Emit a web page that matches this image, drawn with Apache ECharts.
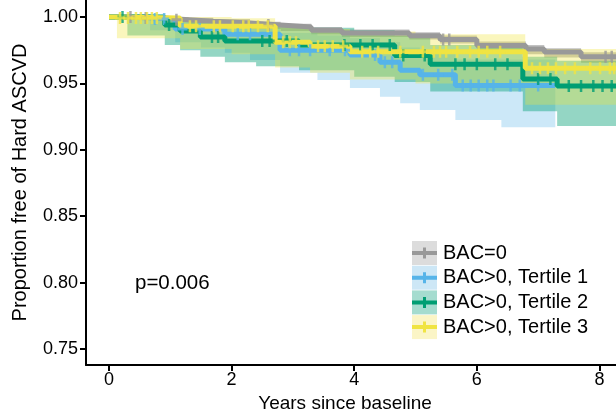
<!DOCTYPE html>
<html>
<head>
<meta charset="utf-8">
<script src="https://cdn.jsdelivr.net/npm/echarts@6/dist/echarts.min.js"></script>
<style>html,body{margin:0;padding:0;background:#fff}#c{width:616px;height:415px}</style>
</head>
<body>
<div id="c"></div>
<script>
var groups = ['BAC=0', 'BAC>0, Tertile 1', 'BAC>0, Tertile 2', 'BAC>0, Tertile 3'];
var xTicks = [0, 2, 4, 6, 8];
var yTicks = [0.75, 0.80, 0.85, 0.90, 0.95, 1.00];
var pValueText = 'p=0.006';

// Kaplan-Meier step curves [years, survival]
var grayLine = [[0,1.000],[0.5,0.9992],[0.9,0.998],[1.3,0.9968],[1.7,0.9955],[2.3,0.994],[2.8,0.9925],[3.3,0.990],[3.8,0.988],[4.9,0.9858],[5.4,0.9830],[6.0,0.9785],[6.8,0.976],[7.1,0.9736],[7.7,0.9700],[8.3,0.9700]];
var blueLine = [[0,1.000],[0.67,0.9985],[1.08,0.991],[1.89,0.987],[2.79,0.975],[3.93,0.9714],[4.42,0.966],[4.75,0.960],[5.07,0.9565],[5.65,0.9485],[7.28,0.9485]];
var greenLine = [[0,1.000],[0.91,0.994],[1.16,0.9895],[1.49,0.985],[1.89,0.982],[3.1,0.979],[4.66,0.971],[5.24,0.9645],[6.75,0.9533],[7.31,0.948],[8.3,0.948]];
var yellowLine = [[0,1.000],[0.13,0.9993],[1.16,0.993],[2.71,0.981],[3.28,0.978],[3.93,0.9738],[6.79,0.9615],[8.3,0.9615]];

// Confidence bands [years, lower, upper]
var grayBand = [[0,0.999,1.0],[0.5,0.9975,1.0],[0.9,0.996,1.0],[1.3,0.9945,0.9995],[1.7,0.993,0.9985],[2.3,0.991,0.9965],[2.8,0.9895,0.995],[3.3,0.987,0.9925],[3.8,0.985,0.9905],[4.9,0.983,0.9885],[5.4,0.980,0.986],[6.0,0.975,0.9815],[6.8,0.972,0.979],[7.1,0.9695,0.9765],[7.7,0.9655,0.9735],[8.3,0.9655,0.9735]];
var blueBand = [[0.67,0.990,1.0],[1.08,0.981,0.999],[1.5,0.977,0.998],[1.89,0.973,0.996],[2.3,0.9676,0.995],[2.79,0.958,0.988],[3.4,0.9526,0.986],[3.93,0.9465,0.984],[4.42,0.940,0.981],[4.75,0.935,0.977],[5.07,0.930,0.973],[5.65,0.9224,0.968],[6.4,0.917,0.968],[7.28,0.917,0.968]];
var greenBand = [[0.3,0.986,1.0],[0.91,0.979,1.0],[1.16,0.975,0.998],[1.49,0.970,0.996],[1.89,0.966,0.994],[2.4,0.963,0.993],[3.1,0.960,0.992],[4.0,0.955,0.990],[4.66,0.951,0.986],[5.24,0.944,0.979],[6.75,0.929,0.970],[7.31,0.918,0.967],[8.3,0.918,0.967]];
var yellowBand = [[0.13,0.984,1.0],[1.16,0.976,1.0],[2.0,0.972,0.999],[2.71,0.962,0.993],[3.28,0.958,0.991],[3.93,0.953,0.989],[5.0,0.950,0.987],[6.79,0.934,0.976],[8.3,0.934,0.976]];

// Censoring marks [years, survival]
var grayCensor = [[0.35,1.0],[0.6,0.9992],[1.1,0.998],[2.6,0.994],[5.45,0.983],[5.55,0.983],[8.1,0.970],[8.2,0.970]];
var blueCensor = [[0.75,0.9985],[0.9,0.9985],[1.2,0.991],[1.48,0.991],[2.1,0.987],[2.3,0.987],[2.95,0.975],[3.1,0.975],[3.28,0.975],[3.6,0.975],[3.85,0.975],[4.34,0.9714],[4.5,0.966],[4.62,0.966],[5.12,0.9565],[5.37,0.9565],[5.6,0.9565],[5.77,0.9485],[5.9,0.9485],[6.03,0.9485],[6.17,0.9485],[6.27,0.9485],[6.55,0.9485],[6.7,0.9485],[7.0,0.9485]];
var greenCensor = [[0.22,1.0],[0.98,0.994],[1.68,0.985],[1.78,0.985],[2.5,0.982],[2.62,0.982],[2.9,0.982],[3.84,0.979],[4.1,0.979],[4.3,0.979],[4.58,0.979],[4.8,0.971],[5.15,0.971],[5.65,0.9645],[5.8,0.9645],[6.0,0.9645],[6.3,0.9645],[6.5,0.9645],[7.0,0.9533],[7.2,0.9533],[7.5,0.948],[7.7,0.948],[7.9,0.948],[8.05,0.948],[8.2,0.948]];
var yellowCensor = [[0.18,0.9993],[0.31,0.9993],[0.44,0.9993],[0.52,0.9993],[0.62,0.9993],[0.70,0.9993],[0.78,0.9993],[1.32,0.993],[1.42,0.993],[1.71,0.993],[1.81,0.993],[2.02,0.993],[2.19,0.993],[2.28,0.993],[2.43,0.993],[2.59,0.993],[2.84,0.981],[2.95,0.981],[3.05,0.981],[3.41,0.978],[3.52,0.978],[3.65,0.978],[3.82,0.978],[4.13,0.9738],[4.26,0.9738],[4.39,0.9738],[4.75,0.9738],[5.12,0.9738],[5.3,0.9738],[5.4,0.9738],[5.5,0.9738],[5.68,0.9738],[5.89,0.9738],[6.03,0.9738],[6.17,0.9738],[6.38,0.9738],[6.9,0.9615],[7.03,0.9615],[7.16,0.9615],[7.29,0.9615],[7.44,0.9615],[7.6,0.9615],[7.85,0.9615],[8.01,0.9615],[8.17,0.9615],[8.24,0.9615]];

var lineColors = ['#999999', '#56B4E9', '#009E73', '#F0E442'];
var bandColors = ['rgba(153,153,153,0.6)', 'rgba(86,180,233,0.30)', 'rgba(0,158,115,0.42)', 'rgba(240,228,66,0.35)'];
var legendBoxColors = ['#dcdcdc', '#cde7f6', '#a5dccf', '#fbf5c6'];

var lines = [grayLine, blueLine, greenLine, yellowLine];
var bands = [grayBand, blueBand, greenBand, yellowBand];
var censors = [grayCensor, blueCensor, greenCensor, yellowCensor];

var FONT = 'Liberation Sans, Arial, sans-serif';
var crossPath = 'path://M3,0H5V3H8V5H5V8H3V5H0V3H3Z';
var legendLinePath = 'path://M0,0M25,24M0,10H25V14H0ZM11,6.5H14V17.5H11Z';

function bandSeries(i) {
  var rows = bands[i];
  return {
    type: 'custom', name: groups[i], z: 1, silent: true,
    data: rows,
    encode: { x: 0, y: [1, 2] },
    renderItem: function (params, api) {
      if (params.dataIndex !== 0) return null;
      var upper = [], lower = [];
      for (var k = 0; k < rows.length - 1; k++) {
        var t0 = rows[k][0], t1 = rows[k + 1][0];
        upper.push(api.coord([t0, rows[k][2]]), api.coord([t1, rows[k][2]]));
        lower.push(api.coord([t0, rows[k][1]]), api.coord([t1, rows[k][1]]));
      }
      return { type: 'polygon', shape: { points: upper.concat(lower.reverse()) }, style: { fill: bandColors[i] } };
    }
  };
}
function lineSeries(i) {
  return {
    type: 'line', name: groups[i], step: 'end', z: 2, silent: true,
    data: lines[i], showSymbol: false, symbol: 'none',
    lineStyle: { color: lineColors[i], width: 5 }, itemStyle: { color: lineColors[i] }
  };
}
function censorSeries(i) {
  return {
    type: 'scatter', name: groups[i], z: 3, silent: true,
    data: censors[i], symbol: crossPath, symbolSize: [10, 12],
    itemStyle: { color: lineColors[i] }
  };
}

var series = [];
for (var i = 0; i < 4; i++) series.push(bandSeries(i));
for (var i = 0; i < 4; i++) { series.push(lineSeries(i)); series.push(censorSeries(i)); }

var legendCommon = {
  orient: 'vertical', left: 407, top: 236,
  itemWidth: 25, itemHeight: 24, itemGap: 0.7,
  selectedMode: false,
  textStyle: { fontSize: 20, fontFamily: FONT, color: '#000', padding: [0, 0, 0, 1] }
};

var chart = echarts.init(document.getElementById('c'), null, { renderer: 'canvas' });
chart.setOption({
  animation: false,
  backgroundColor: '#fff',
  grid: { left: 86, right: 0, top: 0, bottom: 50, containLabel: false, outerBoundsMode: 'none' },
  xAxis: {
    type: 'value', min: -0.375, max: 8.27,
    name: 'Years since baseline', nameLocation: 'middle', nameGap: 23,
    nameTextStyle: { fontSize: 19, fontFamily: FONT, color: '#000', padding: [0, 12, 0, 0] },
    axisLine: { show: true, onZero: false, lineStyle: { color: '#000', width: 2 } },
    axisTick: { show: true, length: 6, lineStyle: { color: '#000', width: 2 }, customValues: xTicks },
    axisLabel: { fontSize: 18, fontFamily: FONT, color: '#000', margin: 6, customValues: xTicks },
    splitLine: { show: false }
  },
  yAxis: {
    type: 'value', min: 0.738, max: 1.0128,
    name: 'Proportion free of Hard ASCVD', nameLocation: 'middle', nameGap: 56,
    nameTextStyle: { fontSize: 20, fontFamily: FONT, color: '#000' },
    axisLine: { show: true, onZero: false, lineStyle: { color: '#000', width: 2 } },
    axisTick: { show: true, length: 6, lineStyle: { color: '#000', width: 2 }, customValues: yTicks },
    axisLabel: { fontSize: 18, fontFamily: FONT, color: '#000', margin: 8, customValues: yTicks,
      formatter: function (v) { return v.toFixed(2); } },
    splitLine: { show: false }
  },
  legend: [
    Object.assign({}, legendCommon, {
      z: 10,
      data: groups.map(function (g, i) { return { name: g, icon: 'rect', itemStyle: { color: legendBoxColors[i] } }; })
    }),
    Object.assign({}, legendCommon, {
      z: 11,
      textStyle: { fontSize: 20, fontFamily: FONT, color: 'rgba(0,0,0,0)', padding: [0, 0, 0, 1] },
      data: groups.map(function (g, i) { return { name: g, icon: legendLinePath, itemStyle: { color: lineColors[i] } }; })
    })
  ],
  graphic: [{
    type: 'text', x: 135, y: 283,
    style: { text: pValueText, font: '20.5px ' + FONT, fill: '#000', verticalAlign: 'middle', align: 'left' }
  }],
  series: series
});
</script>
</body>
</html>
